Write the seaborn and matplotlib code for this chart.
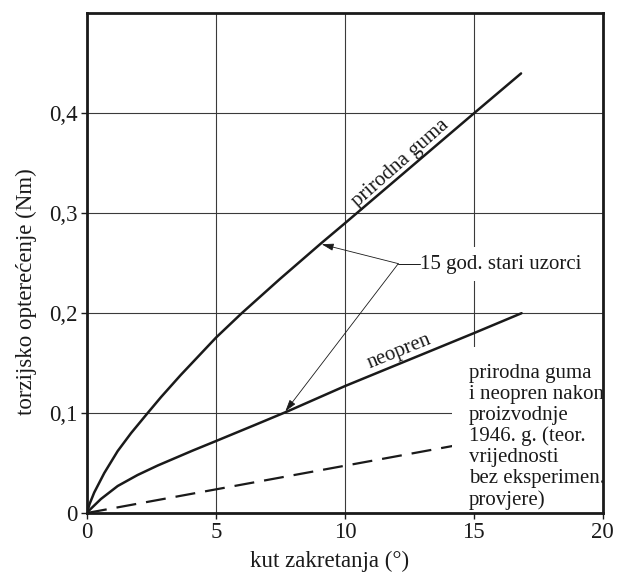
import numpy as np
import pandas as pd
import matplotlib
matplotlib.use("Agg")
import matplotlib.pyplot as plt
import seaborn as sns

# podaci ocitani sa slike
kut_guma = [0, 0.1, 0.28, 0.67, 1.19, 1.71, 2.35, 2.87, 3.63, 5, 6, 7.47, 9.08, 10, 12, 15, 16.83]
moment_guma = [0, 0.009, 0.0205, 0.040, 0.062, 0.08, 0.1, 0.116, 0.138, 0.1755, 0.2, 0.234,
               0.27, 0.29, 0.334, 0.4, 0.44]

kut_neopren = [0, 0.1, 0.54, 1.19, 1.96, 2.74, 4.1, 5, 6.5, 7.8, 10, 12.5, 15, 16.85]
moment_neopren = [0, 0.003, 0.014, 0.027, 0.038, 0.0475, 0.0625, 0.072, 0.088, 0.102,
                  0.127, 0.1535, 0.18, 0.2]

kut_teor = [0, 14.8]
moment_teor = [0, 0.07]

x_ticks = [0, 5, 10, 15, 20]
y_ticks = [0, 0.1, 0.2, 0.3, 0.4]
y_tick_labels = ["0", "0,1", "0,2", "0,3", "0,4"]

sns.set_theme(style="white")
plt.rcParams["font.family"] = ["Liberation Serif", "DejaVu Serif"]
plt.rcParams["axes.unicode_minus"] = False

fig, ax = plt.subplots(figsize=(6.17, 5.74), dpi=100)
fig.subplots_adjust(left=0.141, right=0.977, bottom=0.1063, top=0.9765)

df_guma = pd.DataFrame({"kut": kut_guma, "moment": moment_guma})
df_neo = pd.DataFrame({"kut": kut_neopren, "moment": moment_neopren})
df_teor = pd.DataFrame({"kut": kut_teor, "moment": moment_teor})

sns.lineplot(data=df_guma, x="kut", y="moment", ax=ax, color="#1a1a1a", lw=1.8, zorder=2)
sns.lineplot(data=df_neo, x="kut", y="moment", ax=ax, color="#1a1a1a", lw=1.8, zorder=2)
sns.lineplot(data=df_teor, x="kut", y="moment", ax=ax, color="#1a1a1a", lw=1.6,
             linestyle=(0, (9, 4.5)), zorder=2)

ax.set_xlim(0, 20)
ax.set_ylim(0, 0.5)
ax.set_xticks(x_ticks)
ax.set_xticklabels([str(t) for t in x_ticks])
ax.set_yticks(y_ticks)
ax.set_yticklabels(y_tick_labels)
ax.tick_params(direction="out", length=4.5, width=1, pad=2, labelsize=16.5,
               colors="#1a1a1a", bottom=True, left=True)

ax.set_axisbelow(True)
ax.grid(True, color="#3a3a3a", lw=0.8)
for s in ax.spines.values():
    s.set_linewidth(2)
    s.set_color("#1a1a1a")
    s.set_zorder(3)

ax.set_xlabel("kut zakretanja (°)", fontsize=16.5, color="#1a1a1a")
ax.set_ylabel("torzijsko opterećenje (Nm)", fontsize=16.5, color="#1a1a1a")
ax.xaxis.set_label_coords(0.471, -0.075)
ax.yaxis.set_label_coords(-0.097, 0.444)

# natpisi uz krivulje
ax.text(12.15, 0.3505, "prirodna guma", fontsize=15, rotation=41.5,
        rotation_mode="anchor", ha="center", va="center", color="#1a1a1a")
ax.text(12.11, 0.1616, "neopren", fontsize=15, rotation=22,
        rotation_mode="anchor", ha="center", va="center", color="#1a1a1a")

# strelice
ax.text(12.9, 0.249, "15 god. stari uzorci", fontsize=15, ha="left", va="center",
        color="#1a1a1a", zorder=2.4,
        bbox=dict(boxstyle="square,pad=0.35", fc="white", ec="none"))
ax.plot([12.07, 12.9], [0.2496, 0.2496], color="#1a1a1a", lw=0.7, zorder=2.6)
for tx, ty in [(9.1, 0.269), (7.69, 0.1017)]:
    ax.annotate("", xy=(tx, ty), xytext=(12.07, 0.2496),
                arrowprops=dict(arrowstyle="-|>,head_length=0.6,head_width=0.18",
                                color="#1a1a1a", lw=0.6, shrinkA=0, shrinkB=0),
                zorder=2.6)

ax.text(14.8, 0.149,
        "prirodna guma\ni neopren nakon\nproizvodnje\n1946. g. (teor.\nvrijednosti\nbez eksperimen.\nprovjere)",
        fontsize=15, ha="left", va="top", linespacing=1.13, color="#1a1a1a", zorder=2.4,
        clip_on=True,
        bbox=dict(boxstyle="square,pad=0.8", fc="white", ec="none"))

fig.savefig("out.png", dpi=100)
